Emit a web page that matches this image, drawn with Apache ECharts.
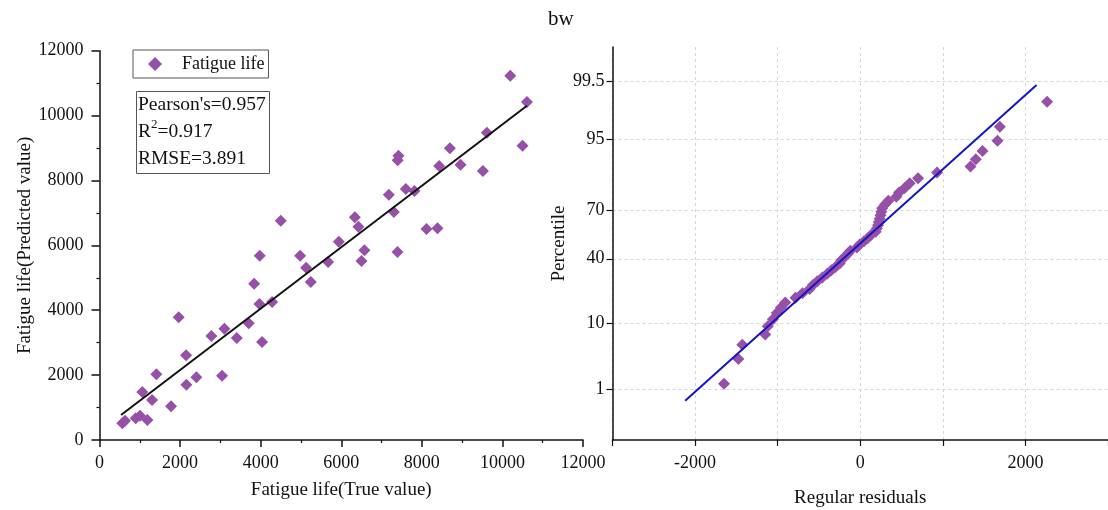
<!DOCTYPE html>
<html>
<head>
<meta charset="utf-8">
<script src="https://cdn.jsdelivr.net/npm/echarts@6/dist/echarts.min.js"></script>
<style>html,body{margin:0;padding:0;background:#fff;}#main{width:1108px;height:510px;}</style>
</head>
<body>
<div id="main"></div>
<script>
// ---------- data ----------
const trueValues = [567, 633, 898, 1006, 1188, 1063, 1304, 1412, 1776, 1966, 2148, 2156, 2404, 2777, 3042, 3100, 3407, 3705, 3837, 3969, 3978, 4035, 4284, 4499, 4979, 5128, 5244, 5674, 5940, 6337, 6427, 6502, 6576, 7181, 7306, 7396, 7400, 7420, 7603, 7817, 8116, 8389, 8431, 8696, 8960, 9515, 9615, 10194, 10499, 10608];
const predictedValues = [514, 595, 669, 749, 617, 1480, 1233, 2025, 1038, 3782, 2610, 1706, 1932, 3206, 1983, 3432, 3144, 3596, 4820, 4192, 5682, 3021, 4254, 6761, 5682, 5312, 4871, 5487, 6113, 6865, 6576, 5518, 5848, 7562, 7028, 5795, 8620, 8760, 7737, 7676, 6504, 6526, 8446, 8992, 8487, 8292, 9474, 11230, 9072, 10419];
const fitLine = [[534, 770], [10608, 10305]];

const residuals = [-1650, -1476, -1428, -1150, -1119, -1058, -1010, -960, -908, -784, -700, -613, -573, -520, -459, -400, -350, -300, -250, -230, -189, -150, -120, -40, -7, 45, 90, 130, 187, 200, 215, 225, 235, 245, 256, 265, 300, 340, 437, 470, 538, 599, 700, 930, 1335, 1399, 1480, 1662, 1690, 2263];
const percentiles = [1.24, 3.23, 5.22, 7.21, 9.2, 11.19, 13.18, 15.17, 17.16, 19.15, 21.14, 23.13, 25.12, 27.11, 29.1, 31.09, 33.08, 35.07, 37.06, 39.05, 41.04, 43.03, 45.02, 47.01, 49.0, 51.0, 52.99, 54.98, 56.97, 58.96, 60.95, 62.94, 64.93, 66.92, 68.91, 70.9, 72.89, 74.88, 76.87, 78.86, 80.85, 82.84, 84.83, 86.82, 88.81, 90.8, 92.79, 94.78, 96.77, 98.76];
const refLine = [[-2120, 0.6], [2135, 99.4]];
const percentileTicks = [1, 10, 40, 70, 95, 99.5];
const percentileTickLabels = ['1', '10', '40', '70', '95', '99.5'];
const statsText = ['Pearson\'s=0.957', 'R', '2', '=0.917', 'RMSE=3.891'];

// ---------- probability scale (normal quantile) ----------
function probit(p) {
  const a=[-3.969683028665376e+01,2.209460984245205e+02,-2.759285104469687e+02,1.383577518672690e+02,-3.066479806614716e+01,2.506628277459239e+00];
  const b=[-5.447609879822406e+01,1.615858368580409e+02,-1.556989798598866e+02,6.680131188771972e+01,-1.328068155288572e+01];
  const c=[-7.784894002430293e-03,-3.223964580411365e-01,-2.400758277161838e+00,-2.549732539343734e+00,4.374664141464968e+00,2.938163982698783e+00];
  const d=[7.784695709041462e-03,3.224671290700398e-01,2.445134137142996e+00,3.754408661907416e+00];
  const pl=0.02425, ph=1-pl; let q, r;
  if (p < pl) { q=Math.sqrt(-2*Math.log(p)); return (((((c[0]*q+c[1])*q+c[2])*q+c[3])*q+c[4])*q+c[5])/((((d[0]*q+d[1])*q+d[2])*q+d[3])*q+1); }
  if (p > ph) { q=Math.sqrt(-2*Math.log(1-p)); return -(((((c[0]*q+c[1])*q+c[2])*q+c[3])*q+c[4])*q+c[5])/((((d[0]*q+d[1])*q+d[2])*q+d[3])*q+1); }
  q=p-0.5; r=q*q;
  return (((((a[0]*r+a[1])*r+a[2])*r+a[3])*r+a[4])*r+a[5])*q/(((((b[0]*r+b[1])*r+b[2])*r+b[3])*r+b[4])*r+1);
}
const toZ = pct => probit(pct / 100);
const zTicks = percentileTicks.map(toZ);

const FONT = "'Liberation Serif','Times New Roman',serif";
const PURPLE = '#9650a8';
const BLACK = '#111';

const scatterLeft = trueValues.map((v, i) => [v, predictedValues[i]]);
const scatterRight = residuals.map((v, i) => [v, toZ(percentiles[i])]);
const refLineZ = refLine.map(d => [d[0], toZ(d[1])]);

const chart = echarts.init(document.getElementById('main'), null, {renderer: 'canvas'});

const axisCommon = {
  axisLine: {show: true, onZero: false, lineStyle: {color: BLACK, width: 1.5}},
  nameTextStyle: {color: BLACK, fontFamily: FONT, fontSize: 19},
  nameLocation: 'middle'
};
const labelBase = {color: BLACK, fontFamily: FONT, fontSize: 18};

chart.setOption({
  animation: false,
  backgroundColor: '#fff',
  textStyle: {fontFamily: FONT},
  title: [
    {text: 'bw', left: 548, top: 9, padding: 0,
     textStyle: {fontFamily: FONT, fontSize: 21, fontWeight: 'normal', color: BLACK}},
    {text: '{a|' + statsText[0] + '}\n{a|' + statsText[1] + '}{s|' + statsText[2] + '}{a|' + statsText[3] + '}\n{a|' + statsText[4] + '}',
     left: 136, top: 88, padding: [3, 4, 5, 2],
     borderColor: '#555', borderWidth: 1,
     textStyle: {fontFamily: FONT, fontWeight: 'normal', color: BLACK,
       rich: {
         a: {fontFamily: FONT, fontSize: 19.5, lineHeight: 27, color: BLACK},
         s: {fontFamily: FONT, fontSize: 13, lineHeight: 27, verticalAlign: 'top', color: BLACK, padding: [0, 0, 8, 0]}
       }}}
  ],
  legend: {
    data: ['Fatigue life'],
    left: 133, top: 50,
    orient: 'vertical',
    padding: [5, 4, 5, 15],
    borderColor: '#555', borderWidth: 1,
    itemWidth: 14, itemHeight: 14,
    textStyle: {fontFamily: FONT, fontSize: 18, color: BLACK, padding: [0, 0, 0, 15]}
  },
  grid: [
    {left: 99.5, right: 525, top: 50.7, bottom: 70, outerBoundsMode: 'none', containLabel: false},
    {left: 612.5, right: 0, top: 47, bottom: 70, outerBoundsMode: 'none', containLabel: false}
  ],
  xAxis: [
    Object.assign({}, axisCommon, {
      gridIndex: 0, type: 'value', min: 0, max: 12000, interval: 2000,
      axisTick: {show: true, length: 7, inside: false, lineStyle: {color: BLACK, width: 1.5}},
      minorTick: {show: true, splitNumber: 2, length: 3, lineStyle: {color: BLACK, width: 1.2}},
      axisLabel: Object.assign({}, labelBase, {margin: 14, formatter: v => String(v)}),
      splitLine: {show: false},
      name: 'Fatigue life(True value)', nameGap: 41
    }),
    Object.assign({}, axisCommon, {
      gridIndex: 1, type: 'value', min: -3000, max: 3000, interval: 1000,
      axisTick: {show: true, length: 6, inside: false, lineStyle: {color: BLACK, width: 1.2}},
      axisLabel: Object.assign({}, labelBase, {margin: 14,
        formatter: v => (Math.abs(v) % 2000 === 0 && Math.abs(v) < 3000) ? String(v) : ''}),
      splitLine: {show: true, lineStyle: {color: '#d6d6d6', type: [3, 3], width: 1}},
      name: 'Regular residuals', nameGap: 49
    })
  ],
  yAxis: [
    Object.assign({}, axisCommon, {
      gridIndex: 0, type: 'value', min: 0, max: 12000, interval: 2000,
      axisTick: {show: true, length: 8, inside: false, lineStyle: {color: BLACK, width: 1.5}},
      minorTick: {show: true, splitNumber: 2, length: 3, lineStyle: {color: BLACK, width: 1.2}},
      axisLabel: Object.assign({}, labelBase, {margin: 16, formatter: v => String(v)}),
      splitLine: {show: false},
      name: 'Fatigue life(Predicted value)', nameGap: 65
    }),
    Object.assign({}, axisCommon, {
      gridIndex: 1, type: 'value', min: -3.138, max: 3.117,
      axisTick: {show: true, length: 6, inside: false, customValues: zTicks, lineStyle: {color: BLACK, width: 1.2}},
      axisLabel: Object.assign({}, labelBase, {margin: 8, customValues: zTicks,
        formatter: v => {
          let best = 0, bd = Infinity;
          zTicks.forEach((z, i) => { const dd = Math.abs(z - v); if (dd < bd) { bd = dd; best = i; } });
          return percentileTickLabels[best];
        }}),
      splitLine: {show: true, lineStyle: {color: '#d6d6d6', type: [3, 3], width: 1}},
      name: 'Percentile', nameGap: 44
    })
  ],
  series: [
    {name: 'Fatigue life', type: 'scatter', xAxisIndex: 0, yAxisIndex: 0,
     symbol: 'diamond', symbolSize: 12, itemStyle: {color: PURPLE, opacity: 1},
     data: scatterLeft, z: 2},
    {name: 'fit', type: 'line', xAxisIndex: 0, yAxisIndex: 0, showSymbol: false, symbol: 'none',
     lineStyle: {color: BLACK, width: 2}, data: fitLine, z: 3, silent: true},
    {name: 'residuals', type: 'scatter', xAxisIndex: 1, yAxisIndex: 1,
     symbol: 'diamond', symbolSize: 12, itemStyle: {color: PURPLE, opacity: 1},
     data: scatterRight, z: 2},
    {name: 'reference', type: 'line', xAxisIndex: 1, yAxisIndex: 1, showSymbol: false, symbol: 'none',
     lineStyle: {color: '#1414c8', width: 2}, data: refLineZ, z: 3, silent: true}
  ]
});
</script>
</body>
</html>
